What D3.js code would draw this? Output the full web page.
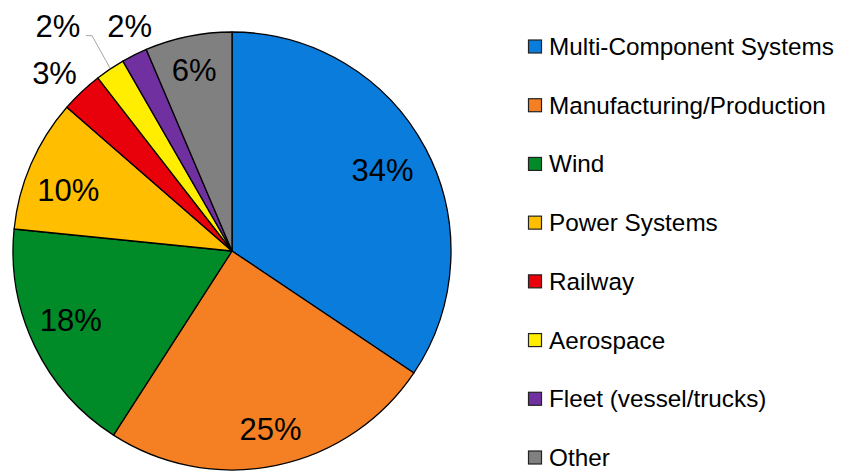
<!DOCTYPE html>
<html><head><meta charset="utf-8">
<script src="https://cdn.jsdelivr.net/npm/d3@7"></script>
<style>body{margin:0;background:#fff}svg{display:block}</style>
</head><body>
<svg id="chart" width="846" height="471"></svg>
<script>
const categories = ["Multi-Component Systems","Manufacturing/Production","Wind","Power Systems","Railway","Aerospace","Fleet (vessel/trucks)","Other"];
const values = [34.4,24.7,17.5,9.8,3.1,2.2,1.9,6.4];
const colors = ["#0a7ddc","#f58024","#008a28","#ffbf00","#e8000b","#ffee00","#7030a0","#808080"];

const W=846,H=471, cx=232, cy=251, R=219;
const svg=d3.select("#chart");
const font="'Liberation Sans', Arial, sans-serif";
const pie=d3.pie().sort(null).value(d=>d)(values);
const arc=d3.arc().innerRadius(0).outerRadius(R);
const g=svg.append("g").attr("transform",`translate(${cx},${cy})`);
g.selectAll("path").data(pie).join("path")
  .attr("d",arc).attr("fill",(d,i)=>colors[i])
  .attr("stroke","#000").attr("stroke-width",1.3).attr("stroke-linejoin","round");

// labels (best-fit style offsets)
const insideR=0.81*R, outsideR=1.14*R;
const nudge={0:[-6,2.5],1:[2.5,5],2:[-1.5,-7.5],3:[-1,10],4:[-6,3.5],5:[-35,-17],6:[9,-1],7:[-2.5,-7]};
pie.forEach((d,i)=>{
  const a=(d.startAngle+d.endAngle)/2;
  const small=values[i]<5;
  const r=small?outsideR:insideR;
  let x=Math.sin(a)*r, y=-Math.cos(a)*r;
  const n=nudge[i]||[0,0];
  x+=n[0]; y+=n[1];
  if(i===5){
    const ex=Math.sin(a)*R, ey=-Math.cos(a)*R;
    g.append("polyline").attr("points",`${x+28},${y+9} ${x+34},${y+9} ${ex},${ey-1}`)
      .attr("fill","none").attr("stroke","#a6a6a6").attr("stroke-width",1);
  }
  g.append("text").attr("x",x).attr("y",y).attr("text-anchor","middle").attr("dominant-baseline","central")
    .attr("font-family",font).attr("font-size",31).attr("fill","#000").text(Math.round(values[i])+"%");
});

// legend
const ly=d3.scalePoint().domain(categories).range([46.5,457.5]);
const lg=svg.append("g");
categories.forEach((c,i)=>{
  const y=ly(c);
  lg.append("rect").attr("x",528.5).attr("y",y-6.5).attr("width",13).attr("height",13)
    .attr("fill",colors[i]).attr("stroke","#222").attr("stroke-width",1.2);
  lg.append("text").attr("x",549).attr("y",y).attr("dominant-baseline","central")
    .attr("font-family",font).attr("font-size",24.3).attr("fill","#000").text(c);
});
</script>
</body></html>
